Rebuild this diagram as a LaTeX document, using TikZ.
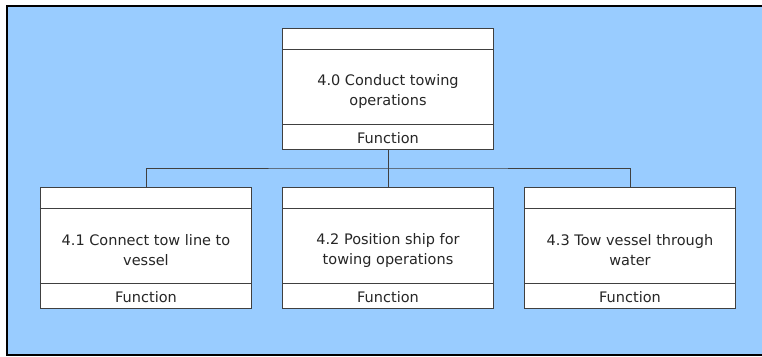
\documentclass[tikz,border=0pt]{standalone}
\usepackage{fontspec}
\setmainfont{DejaVu Sans}
\definecolor{bgblue}{HTML}{99CCFF}
\definecolor{edge}{HTML}{404040}
\begin{document}
\begin{tikzpicture}[x=1bp,y=-1bp,
  fbox/.style={draw=edge, line width=1bp, fill=white, minimum width=211bp, minimum height=120.5bp, inner sep=0pt},
  ftitle/.style={align=center, font=\fontsize{14.5bp}{20bp}\selectfont, text=black!85, inner sep=0pt},
  fkind/.style={font=\fontsize{14.5bp}{18bp}\selectfont, text=black!85, inner sep=0pt},
  conn/.style={draw=edge, line width=1bp}]
\useasboundingbox (0,0) rectangle (762,356);
\fill[white] (-5,-5) rectangle (770,360);
\fill[bgblue] (7,6) rectangle (770,355);
\draw[line width=2bp, line cap=butt] (770,6) -- (7,6) -- (7,355) -- (770,355);
% boxes
\node[fbox] (b0) at (388,89) {};
\node[fbox] (b1) at (146,248) {};
\node[fbox] (b2) at (388,248) {};
\node[fbox] (b3) at (630,248) {};
\foreach \b in {b0,b1,b2,b3}{
  \draw[edge, line width=1bp] ([yshift=-21bp]\b.north west) -- ([yshift=-21bp]\b.north east);
  \draw[edge, line width=1bp] ([yshift=25.5bp]\b.south west) -- ([yshift=25.5bp]\b.south east);
}
\node[ftitle] (t0) at (388,91) {4.0 Conduct towing\\operations};
\node[ftitle] (t1) at (146,250) {4.1 Connect tow line to\\vessel};
\node[ftitle] (t2) at (388,250) {4.2 Position ship for\\towing operations};
\node[ftitle] (t3) at (630,250) {4.3 Tow vessel through\\water};
\foreach \b/\n in {b0/k0,b1/k1,b2/k2,b3/k3}{
  \node[fkind] (\n) at ([yshift=12bp]\b.south) {Function};
}
% connectors
\coordinate (j) at (388,168);
\draw[conn] (b0.south) -- (j);
\draw[conn] (b1.north) |- (j) -| (b3.north);
\draw[conn] (j) -- (b2.north);
\end{tikzpicture}
\end{document}
